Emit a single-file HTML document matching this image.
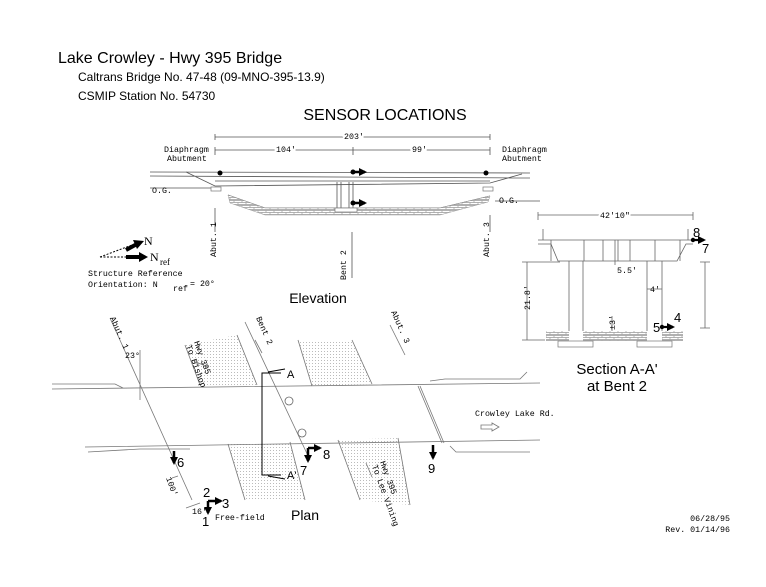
<!DOCTYPE html>
<html><head><meta charset="utf-8"><style>
html,body{margin:0;padding:0;background:#fff;}
svg{display:block;}
.s{font-family:"Liberation Sans",sans-serif;fill:#000;}
.m{font-family:"Liberation Mono",monospace;fill:#000;font-size:8.3px;}
</style></head><body>
<svg width="766" height="587" viewBox="0 0 766 587" xmlns="http://www.w3.org/2000/svg">
<defs>
<pattern id="dots" width="3" height="3" patternUnits="userSpaceOnUse"><rect width="3" height="3" fill="#fff"/><rect width="1" height="1" fill="#bbb"/></pattern>
<pattern id="brick" width="8" height="5" patternUnits="userSpaceOnUse"><rect width="8" height="5" fill="#fff"/><path d="M0 .5H8M0 2.5H8M2 .5V2.5M6 2.5V4.5M0 4.5H8" stroke="#999" stroke-width=".7" fill="none"/></pattern>
<marker id="ah" markerWidth="8" markerHeight="8" refX="6" refY="4" orient="auto" markerUnits="userSpaceOnUse"><path d="M0 0L8 4L0 8z" fill="#000"/></marker>
</defs>
<text class="s" x="58" y="63" font-size="16">Lake Crowley - Hwy 395 Bridge</text>
<text class="s" x="78" y="81" font-size="12">Caltrans Bridge No. 47-48 (09-MNO-395-13.9)</text>
<text class="s" x="78" y="100" font-size="12">CSMIP Station No. 54730</text>
<text class="s" x="385" y="120" font-size="16" text-anchor="middle">SENSOR LOCATIONS</text>

<!-- Elevation -->
<g stroke="#555" stroke-width=".8" fill="none">
<path d="M215 137H490M215 134V140M490 134V140"/>
<path d="M215 150H490M215 147V155M353 147V155M490 147V155"/>
<path d="M150 172L530 173M150 176L530 178M186 172L215 186L490 183L522 174M215 181H490"/>
<path d="M150 188H215M228 195L265 208H440L490 196M495 201H540"/>
<path d="M337 182V208M341 182V208M349 182V208M353 182V208"/>
<path d="M215 208V232M352 232V278M490 215V232"/>
</g>
<path d="M228 195L265 208H440L490 196L488 202L440 215H265L230 203z" fill="url(#brick)" stroke="#999" stroke-width=".5"/>
<rect x="211" y="187" width="10" height="4" fill="#fff" stroke="#777" stroke-width=".7"/>
<rect x="483" y="187" width="10" height="4" fill="#fff" stroke="#777" stroke-width=".7"/>
<rect x="335" y="208" width="22" height="4" fill="#fff" stroke="#777" stroke-width=".7"/>
<circle cx="220" cy="173" r="2.5"/><circle cx="486" cy="173" r="2.5"/>
<circle cx="353" cy="172" r="2.5"/><path d="M353 172H365" stroke="#000" stroke-width="2.5" marker-end="url(#ah)"/>
<circle cx="353" cy="203" r="2.5"/><path d="M353 203H365" stroke="#000" stroke-width="2.5" marker-end="url(#ah)"/>
<text class="m" x="276" y="152" style="paint-order:stroke" stroke="#fff" stroke-width="4">104'</text>
<text class="m" x="344" y="139" style="paint-order:stroke" stroke="#fff" stroke-width="4">203'</text>
<text class="m" x="412" y="152" style="paint-order:stroke" stroke="#fff" stroke-width="4">99'</text>
<text class="m" x="164" y="152">Diaphragm</text><text class="m" x="167" y="161">Abutment</text>
<text class="m" x="502" y="152">Diaphragm</text><text class="m" x="502" y="161">Abutment</text>
<text class="m" x="152" y="193">O.G.</text><text class="m" x="499" y="203">O.G.</text>
<text class="m" transform="translate(216,257) rotate(-90)">Abut. 1</text>
<text class="m" transform="translate(346,280) rotate(-90)">Bent 2</text>
<text class="m" transform="translate(489,257) rotate(-90)">Abut. 3</text>
<text class="s" x="318" y="303" font-size="14" text-anchor="middle">Elevation</text>

<!-- North arrow -->
<path d="M100 257L140 242" stroke="#000" stroke-width="1" stroke-dasharray="2,1.5"/>
<path d="M100 257H140" stroke="#000" stroke-width="1" stroke-dasharray="2,1.5"/>
<path d="M126 250L137 244" stroke="#000" stroke-width="4"/><path d="M133 240L144 241L137 249z"/>
<path d="M126 257H140" stroke="#000" stroke-width="4"/><path d="M139 252L148 257L139 262z"/>
<text x="144" y="245" font-family="Liberation Serif,serif" font-size="12">N</text>
<text x="150" y="261" font-family="Liberation Serif,serif" font-size="12">N</text><text x="160" y="265" font-family="Liberation Serif,serif" font-size="9">ref</text>
<text class="m" x="88" y="276" font-size="10">Structure Reference</text>
<text class="m" x="88" y="287" font-size="10">Orientation: N</text><text class="m" x="173" y="291" font-size="9">ref</text><text class="m" x="190" y="286" font-size="10">= 20°</text>

<!-- Plan -->
<path d="M185 345L237 335L257 385L200 385z" fill="url(#dots)"/>
<path d="M298 340L352 340L372 384L312 386z" fill="url(#dots)"/>
<path d="M228 444L290 442L305 500L245 500z" fill="url(#dots)"/>
<path d="M338 440L398 438L410 505L360 500z" fill="url(#dots)"/>
<g stroke="#777" stroke-width=".8" fill="none">
<path d="M52 384H115L123 388M52 389L540 383M430 381L445 379H520L527 372"/>
<path d="M85 447L540 440M88 452L140 449H190M450 446L456 452H530"/>
<path d="M418 386L442 443M420 386L444 443"/>
<path d="M110 318L192 500M140 350V400M185 345L200 385M237 335L257 385M228 444L245 500M290 442L305 500"/>
<path d="M245 322L310 460M298 340L312 386M352 340L372 384M338 440L360 500M398 438L410 505"/>
<path d="M390 325L405 355M255 340L262 353"/>
<path d="M172 478L178 476M186 508L200 503"/>
</g>
<circle cx="289" cy="401" r="4" fill="none" stroke="#666" stroke-width=".8"/>
<circle cx="302" cy="433" r="4" fill="none" stroke="#666" stroke-width=".8"/>
<path d="M281 373H262V475H281M268 372L285 369M268 476L285 479" stroke="#000" stroke-width="1" fill="none"/>
<text class="s" x="287" y="378" font-size="11">A</text><text class="s" x="287" y="479" font-size="11">A'</text>
<text class="m" transform="translate(110,318) rotate(66)">Abut. 1</text>
<text class="m" transform="translate(256,318) rotate(66)">Bent 2</text>
<text class="m" transform="translate(391,312) rotate(66)">Abut. 3</text>
<text class="m" x="125" y="358">23°</text>
<text class="m" transform="translate(194,342) rotate(70)">Hwy 395</text>
<text class="m" transform="translate(186,346) rotate(70)">To Bishop</text>
<path d="M196 362L208 367M196 362l3 4" stroke="#777" fill="none" stroke-width=".8"/>
<text class="m" transform="translate(380,462) rotate(70)">Hwy 395</text>
<text class="m" transform="translate(372,466) rotate(70)">To Lee Vining</text>
<path d="M366 463L372 477" stroke="#777" fill="none" stroke-width=".8"/>
<text class="m" x="475" y="416">Crowley Lake Rd.</text>
<path d="M481 425H492V423L499 427L492 431V429H481z" fill="#fff" stroke="#777" stroke-width=".8"/>
<g stroke="#000" stroke-width="2.5">
<path d="M174 451V463" marker-end="url(#ah)"/>
<path d="M308 448V461" marker-end="url(#ah)"/><path d="M308 448H320" marker-end="url(#ah)"/>
<path d="M433 445V458" marker-end="url(#ah)"/>
<path d="M208 501V513" marker-end="url(#ah)"/><path d="M208 501H221" marker-end="url(#ah)"/>
</g>
<g font-size="13">
<text x="177" y="467" class="s" font-size="13">6</text><text x="323" y="459" class="s" font-size="13">8</text><text x="300" y="475" class="s" font-size="13">7</text>
<text x="428" y="473" class="s" font-size="13">9</text><text x="203" y="497" class="s" font-size="13">2</text><text x="222" y="508" class="s" font-size="13">3</text><text x="202" y="526" class="s" font-size="13">1</text>
</g>
<text class="m" transform="translate(166,478) rotate(70)">100'</text>
<text class="m" x="192" y="514">16'</text>
<text class="m" x="215" y="520">Free-field</text>
<text class="s" x="305" y="520" font-size="14" text-anchor="middle">Plan</text>

<!-- Section -->
<g stroke="#666" stroke-width=".8" fill="none">
<path d="M538 215H693M538 212V220M693 212V220"/>
<path d="M538 240H693M538 244H551L558 261H677L686 244H693M551 240V261M680 240V261M584 240V261M603 240V261M618 240V261M630 240V261M655 240V261"/>
<path d="M543 229V240M688 229V240"/>
<path d="M569 261V343M583 261V343M647 261V343M662 261V343"/>
<path d="M527 262V340M522 262H560M522 340H545M705 262V328M700 262H710M700 328H710"/>
<path d="M615 240V265M647 289H662M612 316V340"/>
</g>
<rect x="546" y="331" width="137" height="10" fill="url(#brick)"/>
<rect x="569" y="331" width="14" height="10" fill="#fff"/><rect x="647" y="331" width="15" height="10" fill="#fff"/>
<rect x="558" y="341" width="35" height="6" fill="#fff" stroke="#777" stroke-width=".7"/>
<rect x="637" y="341" width="35" height="6" fill="#fff" stroke="#777" stroke-width=".7"/>
<text class="m" x="600" y="218" style="paint-order:stroke" stroke="#fff" stroke-width="4">42'10"</text>
<text class="m" x="617" y="273">5.5'</text>
<text class="m" x="650" y="292">4'</text>
<text class="m" transform="translate(530,310) rotate(-90)">21.8'</text>
<text class="m" transform="translate(615,330) rotate(-90)">±3'</text>
<circle cx="693" cy="240" r="2.2"/><path d="M693 240H704" stroke="#000" stroke-width="2.2" marker-end="url(#ah)"/>
<circle cx="662" cy="327" r="2.2"/><path d="M662 327H673" stroke="#000" stroke-width="2.2" marker-end="url(#ah)"/>
<text class="s" x="693" y="237" font-size="13">8</text><text class="s" x="702" y="253" font-size="13">7</text>
<text class="s" x="653" y="332" font-size="13">5</text><text class="s" x="674" y="322" font-size="13">4</text>
<text class="s" x="617" y="374" font-size="15" text-anchor="middle">Section A-A'</text>
<text class="s" x="617" y="391" font-size="15" text-anchor="middle">at Bent 2</text>

<text class="m" x="730" y="521" text-anchor="end">06/28/95</text>
<text class="m" x="730" y="532" text-anchor="end">Rev. 01/14/96</text>
</svg>
</body></html>
